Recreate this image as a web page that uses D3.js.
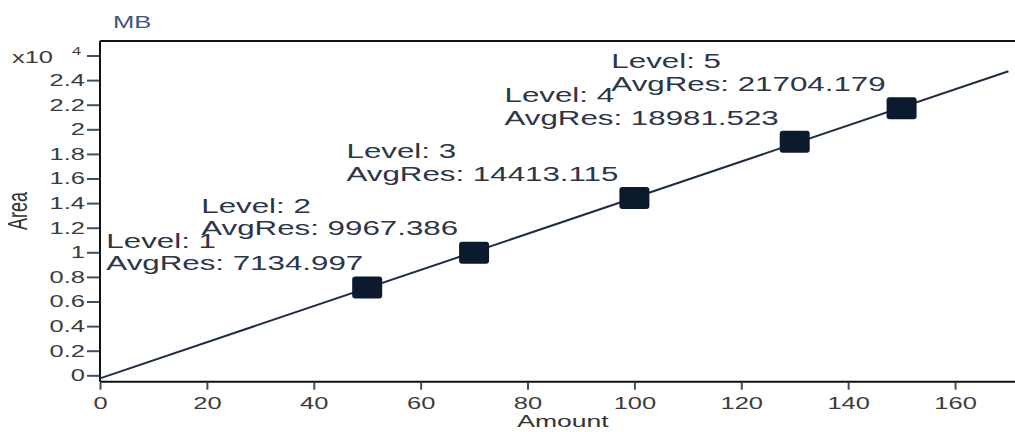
<!DOCTYPE html>
<html>
<head>
<meta charset="utf-8">
<script src="https://cdn.jsdelivr.net/npm/d3@7"></script>
<style>
  html, body { margin: 0; padding: 0; background: #fff; }
  svg { display: block; font-family: "Liberation Sans", Arial, sans-serif; }
</style>
</head>
<body>
<svg id="chart" width="1015" height="432"></svg>
<script>
// Calibration levels for compound MB
const levels = [1, 2, 3, 4, 5];
const amounts = [50, 70, 100, 130, 150];
const avgRes = [7134.997, 9967.386, 14413.115, 18981.523, 21704.179];

// Axis ticks
const xTicks = [0, 20, 40, 60, 80, 100, 120, 140, 160];
const yTicks = [0, 2000, 4000, 6000, 8000, 10000, 12000, 14000, 16000, 18000, 20000, 22000, 24000];
const yExponentTick = 26000;
const yExponent = 4;

// Calibration curve is drawn over this amount range
const curveRange = [0, 170];

const W = 1015, H = 432;
const SX = 1.5;            // horizontal stretch applied to the text glyphs

const svg = d3.select("#chart");
svg.append("rect").attr("width", W).attr("height", H).attr("fill", "#fff");

const x = d3.scaleLinear().domain([0, 180]).range([100, 100 + 180 * 5.344]);
const y = d3.scaleLinear().domain([-520, 27180]).range([381.7, 41]);

const tickColor = "#3d4f66";
const labelColor = "#3c3c3c";

// ---- y axis ----
const yAxis = d3.axisLeft(y)
  .tickValues(yTicks.concat([yExponentTick]))
  .tickSize(13)
  .tickPadding(2)
  .tickFormat(d => d === yExponentTick ? "" : d3.format("~g")(d / Math.pow(10, yExponent)));

const gy = svg.append("g").attr("transform", `translate(${x(0)},0)`).call(yAxis);
gy.select(".domain").remove();
gy.selectAll(".tick line").attr("stroke", tickColor).attr("stroke-width", 2);
gy.selectAll(".tick text")
  .attr("fill", labelColor)
  .style("font-size", "17px")
  .attr("x", -15 / SX)
  .attr("transform", `scale(${SX},1)`);

// exponent label next to the top tick
const yE = y(yExponentTick);
svg.append("text")
  .attr("transform", `translate(53,${yE + 7.6}) scale(${SX},1)`)
  .attr("text-anchor", "end")
  .attr("fill", labelColor)
  .style("font-size", "17px")
  .text("x10");
svg.append("text")
  .attr("transform", `translate(72,${yE - 0.4}) scale(${SX},1)`)
  .attr("fill", labelColor)
  .style("font-size", "11px")
  .text(yExponent);

// ---- x axis ----
const xAxis = d3.axisBottom(x)
  .tickValues(xTicks)
  .tickSize(7)
  .tickPadding(7)
  .tickFormat(d3.format("d"));

const gx = svg.append("g").attr("transform", `translate(0,${y.range()[0] + 1})`).call(xAxis);
gx.select(".domain").remove();
gx.selectAll(".tick line").attr("stroke", tickColor).attr("stroke-width", 2);
gx.selectAll(".tick text")
  .attr("fill", labelColor)
  .style("font-size", "17px")
  .attr("transform", `scale(${SX},1)`);

// ---- plot frame ----
const frame = svg.append("g").attr("stroke", "#111").attr("stroke-width", 2).attr("fill", "none");
frame.append("line").attr("x1", x(0)).attr("x2", W).attr("y1", y.range()[1]).attr("y2", y.range()[1]);
frame.append("line").attr("x1", x(0)).attr("x2", W).attr("y1", y.range()[0]).attr("y2", y.range()[0]);
frame.append("line").attr("x1", x(0)).attr("x2", x(0)).attr("y1", y.range()[1]).attr("y2", y.range()[0]);

// ---- axis titles ----
svg.append("text")
  .attr("transform", `translate(113,28) scale(1.6,1)`)
  .attr("fill", "#41537a")
  .style("font-size", "16px")
  .text("MB");

svg.append("text")
  .attr("transform", `translate(563,427) scale(1.56,1)`)
  .attr("text-anchor", "middle")
  .attr("fill", "#333")
  .style("font-size", "17px")
  .text("Amount");

svg.append("text")
  .attr("transform", `translate(27,211) scale(${SX},1) rotate(-90)`)
  .attr("text-anchor", "middle")
  .attr("fill", "#333")
  .style("font-size", "18px")
  .text("Area");

// ---- linear calibration fit (least squares) ----
const mx = d3.mean(amounts), my = d3.mean(avgRes);
const sxy = d3.sum(amounts, (a, i) => (a - mx) * (avgRes[i] - my));
const sxx = d3.sum(amounts, a => (a - mx) * (a - mx));
const slope = sxy / sxx;
const intercept = my - slope * mx;

svg.append("path")
  .datum(curveRange.map(a => [a, slope * a + intercept]))
  .attr("d", d3.line().x(d => x(d[0])).y(d => y(d[1])))
  .attr("fill", "none")
  .attr("stroke", "#1f2d42")
  .attr("stroke-width", 2);

// ---- calibration points ----
const pts = levels.map((l, i) => ({ level: l, amount: amounts[i], res: avgRes[i] }));

svg.append("g").selectAll("rect")
  .data(pts)
  .join("rect")
  .attr("x", d => x(d.amount) - 15)
  .attr("y", d => y(d.res) - 11)
  .attr("width", 30)
  .attr("height", 22)
  .attr("rx", 3)
  .attr("fill", "#0c1a2e");

// ---- level annotations ----
const annFont = 20, annSX = 1.565;
const labelShift = [12, 0, 0, 0, 0];   // horizontal nudge per annotation
const ann = svg.append("g").attr("fill", "#2b3648").style("font-size", annFont + "px");

pts.forEach((d, i) => {
  const g = ann.append("g");
  const t2 = g.append("text")
    .attr("transform", `scale(${annSX},1)`)
    .attr("y", 22.7)
    .text(`AvgRes: ${d.res.toFixed(3)}`);
  g.append("text")
    .attr("transform", `scale(${annSX},1)`)
    .attr("y", 0)
    .text(`Level: ${d.level}`);
  const w = t2.node().getComputedTextLength() * annSX;
  const right = x(d.amount) - 16 + labelShift[i];
  g.attr("transform", `translate(${right - w},${y(d.res) - 40})`);
});
</script>
</body>
</html>
